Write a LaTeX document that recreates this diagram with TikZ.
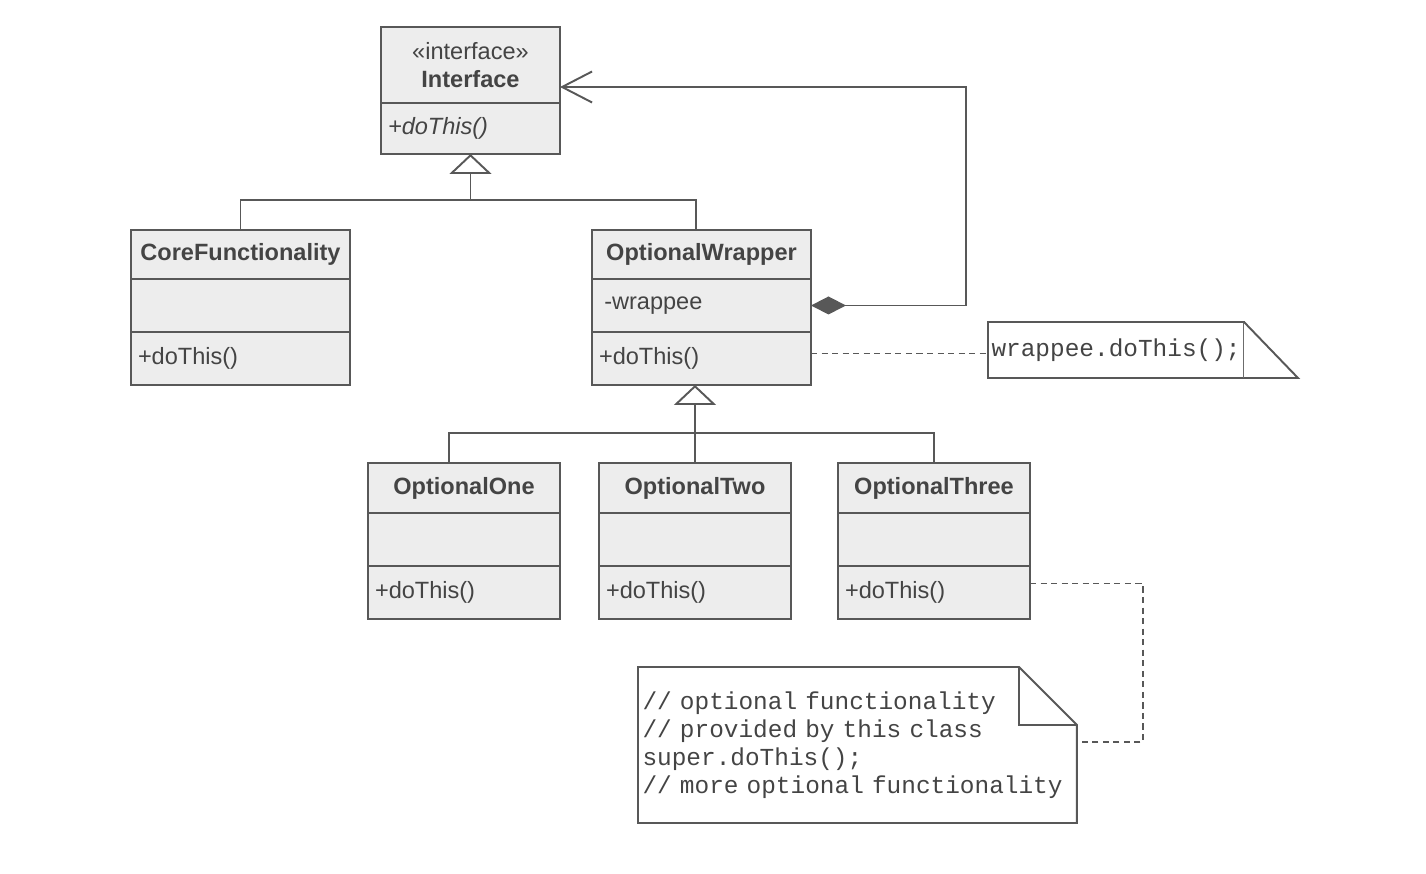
\documentclass[tikz,border=0pt]{standalone}
\usepackage{fontspec}
\setmainfont{Liberation Sans}
\setmonofont{Liberation Mono}
\usetikzlibrary{arrows.meta, positioning}
\definecolor{uLine}{HTML}{585858}
\definecolor{uFill}{HTML}{EDEDED}
\definecolor{uText}{HTML}{444444}
\newcommand{\ufont}{\fontsize{13.4}{16}\selectfont}
\newcommand{\umono}{\ttfamily\fontsize{13.9}{15.9}\selectfont}
\tikzset{
  ucls/.style={draw=uLine, fill=uFill, line width=1.1pt, inner sep=0pt,
               outer sep=0pt, text=uText, font=\ufont},
  utitle/.style={ucls, font=\ufont\bfseries, anchor=north west},
  upart/.style={ucls, text width=#1, align=left, inner xsep=4pt,
                minimum height=1.06cm},
  uline/.style={draw=uLine, line width=1.1pt},
  ugen/.style={uline, -{Triangle[open, length=0.4cm, width=0.84cm]}},
  uagg/.style={uline, {Diamond[length=0.7cm, width=0.36cm, fill=uLine]}-{Straight Barb[length=0.6cm, width=0.62cm]}},
  udash/.style={draw=uLine, line width=0.8pt, dash pattern=on 3.5pt off 2.5pt},
  unote/.style={draw=uLine, fill=white, line width=1.1pt, inner sep=0pt,
                outer sep=0pt, text=uText, font=\umono},
}
\begin{document}
\begin{tikzpicture}[x=0.02cm, y=-0.02cm]
  \useasboundingbox (0,0) rectangle (1426,874);
  % interface
  \node[utitle, minimum width=3.58cm, minimum height=1.52cm, align=center] (iface-t) at (381,27) {\mdseries«interface»\\Interface};
  \node[upart=3.3cm, minimum height=1.02cm, below=0pt of iface-t] (iface-m) {\itshape+doThis()};
  % core and wrapper
  \node[utitle, minimum width=4.38cm, minimum height=0.98cm] (core-t) at (131,230) {CoreFunctionality};
  \node[upart=4.1cm, below=0pt of core-t] (core-a) {};
  \node[upart=4.1cm, below=0pt of core-a] (core-m) {+doThis()};
  \node[utitle, minimum width=4.38cm, minimum height=0.98cm] (wrap-t) at (592,230) {OptionalWrapper};
  \node[upart=4.1cm, below=0pt of wrap-t] (wrap-a) {\hspace*{3pt}-wrappee};
  \node[upart=4.1cm, below=0pt of wrap-a] (wrap-m) {+doThis()};
  % optional classes
  \node[utitle, minimum width=3.84cm, minimum height=1.0cm] (one-t) at (368,463) {OptionalOne};
  \node[upart=3.56cm, below=0pt of one-t] (one-a) {};
  \node[upart=3.56cm, below=0pt of one-a] (one-m) {+doThis()};
  \node[utitle, minimum width=3.84cm, minimum height=1.0cm] (two-t) at (599,463) {OptionalTwo};
  \node[upart=3.56cm, below=0pt of two-t] (two-a) {};
  \node[upart=3.56cm, below=0pt of two-a] (two-m) {+doThis()};
  \node[utitle, minimum width=3.84cm, minimum height=1.0cm] (three-t) at (838,463) {OptionalThree};
  \node[upart=3.56cm, below=0pt of three-t] (three-a) {};
  \node[upart=3.56cm, below=0pt of three-a] (three-m) {+doThis()};
  % notes
  \node[unote, anchor=north west, minimum width=5.12cm, minimum height=1.12cm, text width=4.98cm, align=left, inner xsep=2pt] (note1) at (988,322) {wrappee.doThis();};
  \draw[uline, fill=white] (note1.north east) -- ([xshift=1.08cm]note1.south east) -- (note1.south east);
  \node[unote, draw=none, fill=none, anchor=north west, minimum width=8.78cm, minimum height=3.12cm, text width=8.6cm, align=left, inner xsep=2.5pt] (note2) at (638,667)
    {// optional functionality\\// provided by this class\\super.doThis();\\// more optional functionality};
  \draw[uline] (note2.north west) -- ([xshift=-1.16cm]note2.north east) -- ([yshift=-1.16cm]note2.north east)
    -- (note2.south east) -- (note2.south west) -- cycle;
  \draw[uline] ([xshift=-1.16cm]note2.north east) |- ([yshift=-1.16cm]note2.north east);
  % inheritance
  \coordinate (j1) at ([yshift=0.6cm]iface-m.south |- core-t.north);
  \draw[ugen] (j1) -- (iface-m.south);
  \draw[uline] (core-t.north) |- (j1) -| ([xshift=-0.11cm]wrap-t.north);
  \coordinate (j2) at ([yshift=0.6cm]two-t.north);
  \draw[ugen] (j2) -- (j2 |- wrap-m.south);
  \draw[uline] ([xshift=-0.3cm]one-t.north) |- (j2) -| (three-t.north);
  \draw[uline] (j2) -- (two-t.north);
  % aggregation
  \coordinate (bend) at (966,87);
  \draw[uagg] (wrap-a.east) -| (bend) -- (bend -| iface-t.east);
  % note links
  \draw[udash] ([yshift=0.1cm]wrap-m.east) -- ([yshift=0.1cm]wrap-m.east -| note1.west);
  \coordinate (hook) at (1143,742);
  \draw[udash] ([yshift=0.18cm]three-m.east) -| (hook) -- (hook -| note2.east);
\end{tikzpicture}
\end{document}
